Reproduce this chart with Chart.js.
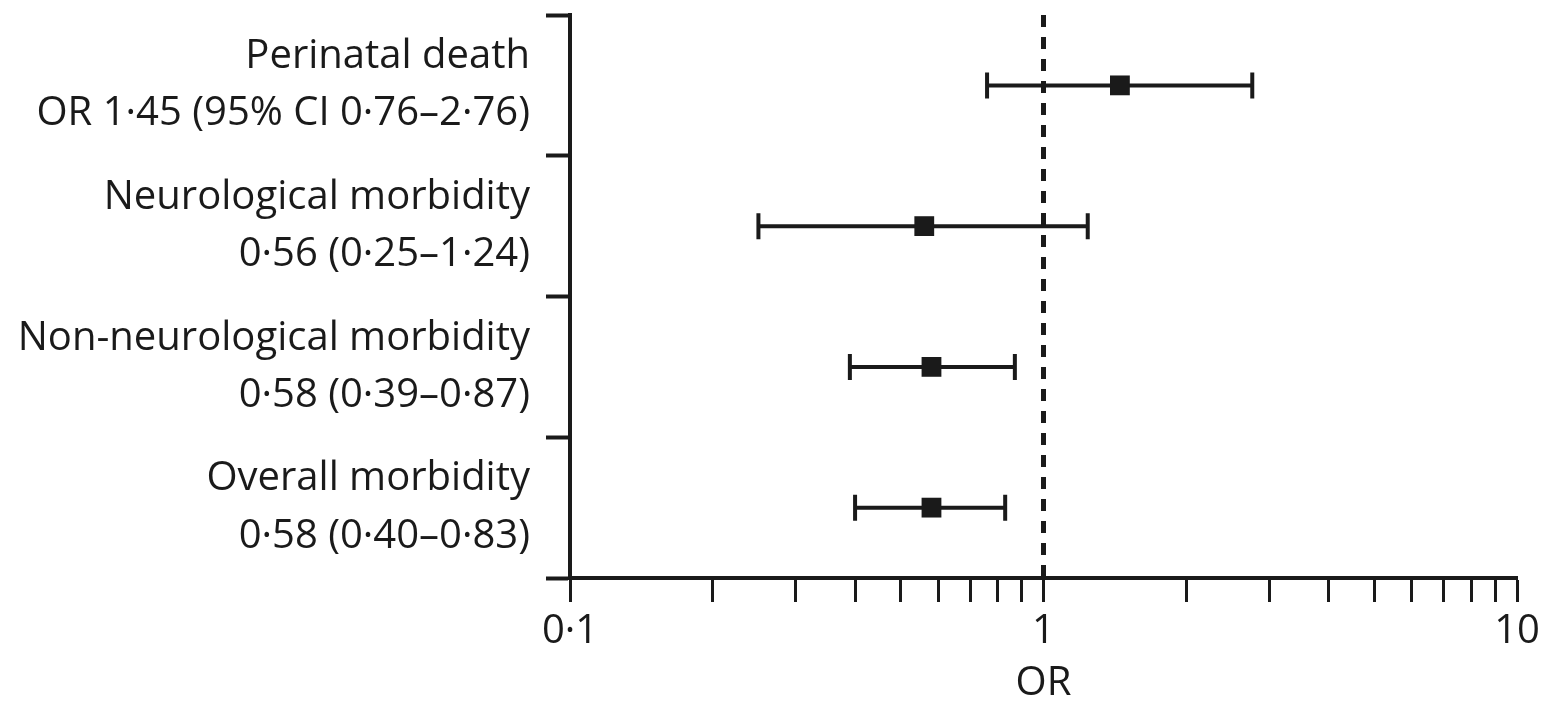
<!DOCTYPE html>
<html>
<head>
<meta charset="utf-8">
<script src="https://cdn.jsdelivr.net/npm/chart.js@4.4.0/dist/chart.umd.min.js"></script>
<style>
  html, body { margin: 0; padding: 0; background: #fff; }
  #wrap { width: 1543px; height: 708px; }
</style>
</head>
<body>
<div id="wrap"><canvas id="forest"></canvas></div>
<script>
// forest plot data
const outcomes = ["Perinatal death", "Neurological morbidity", "Non-neurological morbidity", "Overall morbidity"];
const estimateText = ["OR 1·45 (95% CI 0·76–2·76)", "0·56 (0·25–1·24)", "0·58 (0·39–0·87)", "0·58 (0·40–0·83)"];
const oddsRatio = [1.45, 0.56, 0.58, 0.58];
const ciLow = [0.76, 0.25, 0.39, 0.40];
const ciHigh = [2.76, 1.24, 0.87, 0.83];
const xTickValues = [0.1, 0.2, 0.3, 0.4, 0.5, 0.6, 0.7, 0.8, 0.9, 1, 2, 3, 4, 5, 6, 7, 8, 9, 10];
const xTickLabels = { 0.1: "0·1", 1: "1", 10: "10" };
const refValue = 1;

const ink = "#1a1a1a";
const fontFamily = "'Open Sans', sans-serif";

const errorBars = {
    id: "errorBars",
    beforeDatasetsDraw(chart) {
        const ctx = chart.ctx;
        const xs = chart.scales.x, ys = chart.scales.y;
        ctx.save();
        // reference line at OR = 1
        const xr = xs.getPixelForValue(refValue);
        ctx.strokeStyle = ink;
        ctx.lineWidth = 5;
        ctx.setLineDash([12, 10]);
        ctx.beginPath();
        ctx.moveTo(xr, chart.chartArea.top);
        ctx.lineTo(xr, chart.chartArea.bottom);
        ctx.stroke();
        ctx.setLineDash([]);
        // whiskers
        ctx.lineWidth = 4;
        for (let i = 0; i < oddsRatio.length; i++) {
            const y = ys.getPixelForValue(i + 0.5);
            const x1 = xs.getPixelForValue(ciLow[i]);
            const x2 = xs.getPixelForValue(ciHigh[i]);
            ctx.beginPath();
            ctx.moveTo(x1, y); ctx.lineTo(x2, y);
            ctx.moveTo(x1, y - 13); ctx.lineTo(x1, y + 13);
            ctx.moveTo(x2, y - 13); ctx.lineTo(x2, y + 13);
            ctx.stroke();
        }
        ctx.restore();
    }
};

new Chart(document.getElementById("forest").getContext("2d"), {
    type: "scatter",
    data: {
        datasets: [{
            data: oddsRatio.map((v, i) => ({ x: v, y: i + 0.5 })),
            pointStyle: "rect",
            pointRadius: 14,
            pointHoverRadius: 14,
            backgroundColor: ink,
            borderColor: ink,
            borderWidth: 0
        }]
    },
    options: {
        responsive: true,
        maintainAspectRatio: false,
        animation: false,
        layout: { padding: { top: 15, right: 26, bottom: 0, left: 0 } },
        plugins: { legend: { display: false }, tooltip: { enabled: false } },
        scales: {
            x: {
                type: "logarithmic",
                min: 0.1,
                max: 10,
                afterBuildTicks(scale) {
                    scale.ticks = xTickValues.map(v => ({ value: v }));
                },
                afterFit(scale) {
                    scale.height = 130;
                    scale.paddingLeft = 0;
                    scale.paddingRight = 0;
                },
                border: { display: true, color: ink, width: 4 },
                grid: { drawOnChartArea: false, color: ink, tickColor: ink, tickLength: 24, tickWidth: 3 },
                ticks: {
                    autoSkip: false,
                    maxRotation: 0,
                    padding: 6,
                    color: ink,
                    font: { family: fontFamily, size: 40 },
                    callback(value) { return xTickLabels[value] || ""; }
                },
                title: {
                    display: true,
                    text: "OR",
                    color: ink,
                    font: { family: fontFamily, size: 40 },
                    padding: { top: 0, bottom: 0 }
                }
            },
            y: {
                type: "linear",
                min: 0,
                max: 4,
                reverse: true,
                afterBuildTicks(scale) {
                    const t = [];
                    for (let v = 0; v <= 4; v += 0.5) t.push({ value: v });
                    scale.ticks = t;
                },
                afterFit(scale) {
                    scale.width = 570;
                    scale.paddingTop = 0;
                    scale.paddingBottom = 0;
                },
                border: { display: true, color: ink, width: 4 },
                grid: {
                    drawOnChartArea: false,
                    tickLength: 24,
                    tickWidth: 4,
                    tickColor: ctx => (ctx.tick && Number.isInteger(ctx.tick.value)) ? ink : "rgba(0,0,0,0)"
                },
                ticks: {
                    autoSkip: false,
                    padding: 16,
                    color: ink,
                    font: { family: fontFamily, size: 40, lineHeight: 1.43 },
                    callback(value) {
                        if (Number.isInteger(value)) return "";
                        const i = Math.floor(value);
                        return [outcomes[i], estimateText[i]];
                    }
                }
            }
        }
    },
    plugins: [errorBars]
});
</script>
</body>
</html>
